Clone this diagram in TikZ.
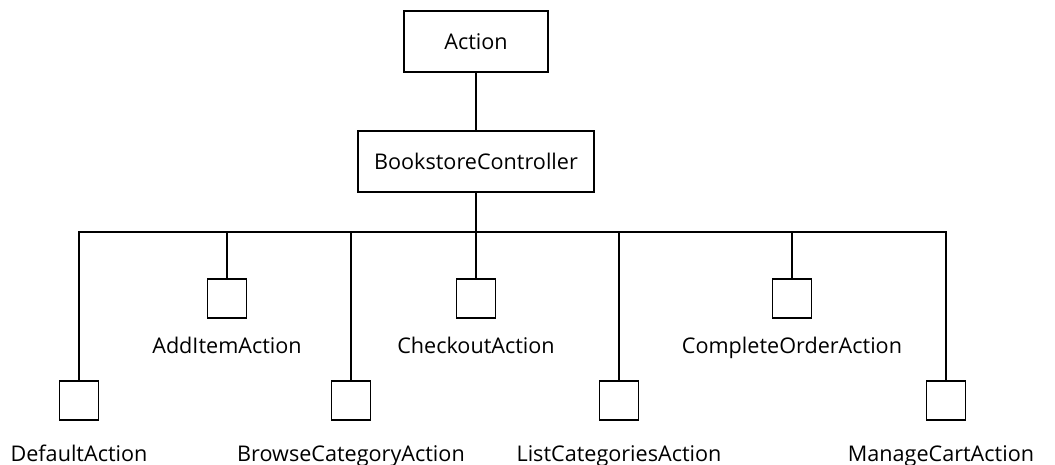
\documentclass[tikz,border=0pt]{standalone}
\usepackage{fontspec}
\setmainfont{Open Sans}
\begin{document}
\begin{tikzpicture}[x=1pt,y=-1pt,
  every node/.style={font=\fontsize{21.6}{25}\selectfont},
  box/.style={draw,line width=1.2pt,inner sep=0pt,minimum height=61pt},
  sq/.style={draw,line width=1.2pt,inner sep=0pt,minimum width=39pt,minimum height=39pt},
  lbl/.style={anchor=base,inner sep=0pt},
  conn/.style={line width=1.2pt}]
\useasboundingbox (0,0) rectangle (1055,464);
\node[box,minimum width=144pt] (act) at (476,41.5) {Action};
\node[box,minimum width=236pt] (bc) at (476,161.5) {BookstoreController};
\coordinate (bus) at (476,232);
% lower squares
\node[sq] (d) at (79,400.5) {};
\node[sq] (b) at (351,400.5) {};
\node[sq] (l) at (619,400.5) {};
\node[sq] (m) at (946,400.5) {};
% upper squares
\node[sq] (a) at (227,298.5) {};
\node[sq] (c) at (476,298.5) {};
\node[sq] (o) at (792,298.5) {};
% labels
\node[lbl] (ld) at (79,461) {DefaultAction};
\node[lbl] (lb) at (351,461) {BrowseCategoryAction};
\node[lbl] (ll) at (619,461) {ListCategoriesAction};
\node[lbl] (lm) at (941,461) {ManageCartAction};
\node[lbl] (la) at (227,353) {AddItemAction};
\node[lbl] (lc) at (476,353) {CheckoutAction};
\node[lbl] (lo) at (792,353) {CompleteOrderAction};
% connectors
\draw[conn] (act.south) -- (bc.north);
\draw[conn] (bc.south) -- (bus);
\draw[conn] (d.north) -- (d.north |- bus) -- (m.north |- bus) -- (m.north);
\foreach \n in {a,b,c,l,o} \draw[conn] (\n.north) -- (\n.north |- bus);
\end{tikzpicture}
\end{document}
